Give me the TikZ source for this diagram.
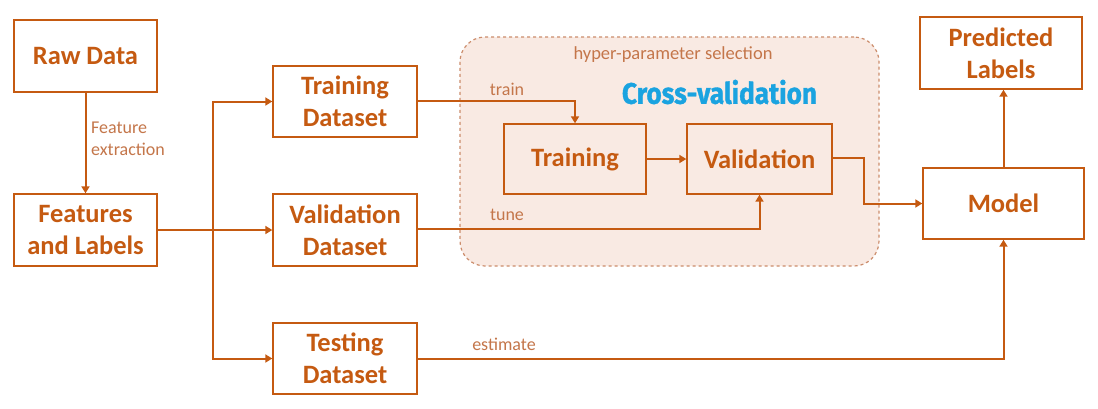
\documentclass[tikz,border=0pt]{standalone}
\usepackage{fontspec}
\setmainfont{Carlito}
\usetikzlibrary{arrows.meta,positioning}
\definecolor{org}{HTML}{C55A11}
\definecolor{lbl}{HTML}{C4764A}
\definecolor{cvfill}{HTML}{F9EAE3}
\definecolor{cvline}{HTML}{CC8D6C}
\definecolor{cvblue}{HTML}{1AA3E0}
\begin{document}
\begin{tikzpicture}[x=1pt,y=-1pt,
  box/.style={draw=org,line width=1.4pt,rectangle,text=org,align=center,
    font=\fontsize{26.5}{32}\selectfont\bfseries,inner sep=0pt},
  conn/.style={draw=org,line width=2pt,-{Triangle[width=8pt,length=7pt]}},
  lab/.style={text=lbl,font=\fontsize{18}{22}\selectfont,inner sep=0pt,align=left}]
\useasboundingbox (0,0) rectangle (1098,408);
\fill[white] (0,0) rectangle (1098,408);
% cross-validation region
\node[draw=cvline,fill=cvfill,dashed,line width=1.2pt,rounded corners=25pt,
  minimum width=419pt,minimum height=229pt,inner sep=0pt] (cv) at (669.5,151.5) {};
\node[text=lbl,font=\fontsize{18.5}{22}\selectfont,inner sep=0pt] (hps) at (673,55) {hyper-parameter selection};
\node[text=cvblue,inner sep=0pt] (cvt) at (719.5,92) {\resizebox{195pt}{24pt}{\fontspec{Fira Sans}[FakeBold=1.2]\bfseries Cross-validation}};
% boxes
\node[box,minimum width=143pt,minimum height=72pt] (raw) at (85.5,56) {Raw Data};
\node[box,minimum width=143pt,minimum height=72pt] (fl) at (85.5,230) {Features\\and Labels};
\node[box,minimum width=144pt,minimum height=71pt] (td) at (345,101.5) {Training\\Dataset};
\node[box,minimum width=144pt,minimum height=72pt] (vd) at (345,230) {Validation\\Dataset};
\node[box,minimum width=144pt,minimum height=71pt] (ted) at (345,358.5) {Testing\\Dataset};
\node[box,minimum width=142pt,minimum height=70pt] (tr) at (575,159) {Training};
\node[box,minimum width=145pt,minimum height=70pt] (va) at (759.5,159) {Validation};
\node[box,minimum width=161pt,minimum height=71pt] (model) at (1003.5,203.5) {Model};
\node[box,minimum width=162pt,minimum height=72pt] (pred) at (1001,53) {Predicted\\Labels};
% connectors
\draw[conn] (raw) -- (fl);
\node[lab,anchor=west] (fe) at (91,139) {Feature\\extraction};
\coordinate (sp) at (213,230);
\draw[conn] (fl) -- (vd);
\draw[conn] (sp) |- (td.west);
\draw[conn] (sp) |- (ted.west);
\draw[conn] (td.east |- 0,101) -| (tr.north);
\node[lab] (trl) at (507,89) {train};
\draw[conn] (vd.east |- 0,229) -| (va.south);
\node[lab] (tul) at (507,215) {tune};
\draw[conn] (tr) -- (va);
\draw[conn] (va.east |- 0,158) -- (864,158) |- (model.west);
\draw[conn] (ted.east) -| (model.south);
\node[lab] (est) at (504,344) {estimate};
\draw[conn] (model.north) -- (model.north |- pred.south);
\end{tikzpicture}
\end{document}
